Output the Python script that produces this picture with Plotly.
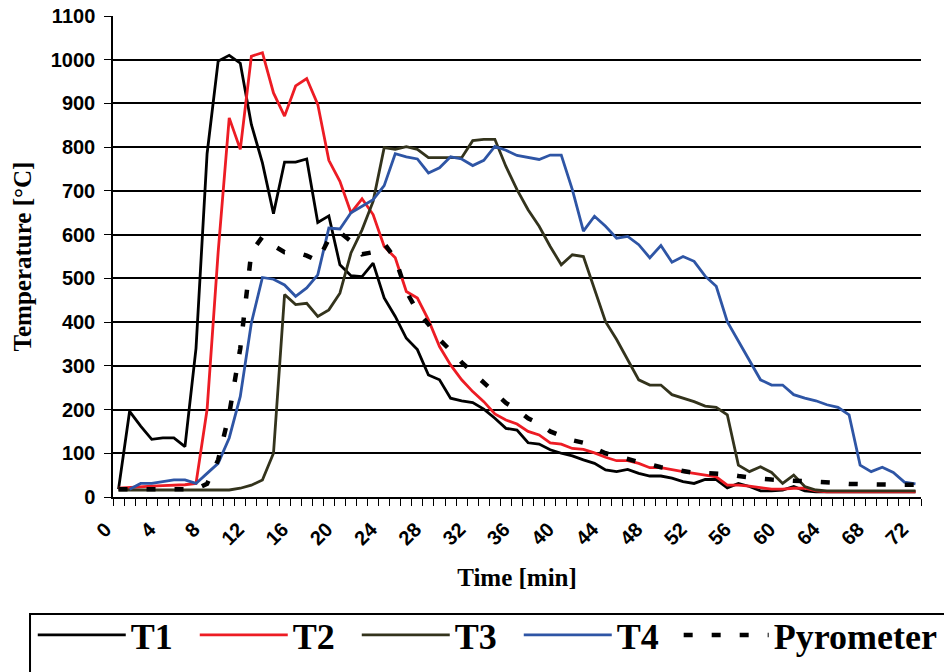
import plotly.graph_objects as go

minutes = list(range(0, 73))

t1 = [18, 196, 162, 132, 135, 135, 115, 340, 785, 997, 1010, 992, 852, 764, 648, 766, 766, 773, 628, 643,
      531, 506, 504, 535, 455, 413, 363, 337, 279, 268, 226, 220, 216, 201, 180, 157, 153, 124, 121, 108,
      100, 94, 85, 77, 62, 58, 63, 54, 48, 48, 43, 35, 31, 40, 40, 21, 31, 24, 14, 14,
      16, 24, 14, 12, 12, 12, 12, 12, 12, 12, 12, 12, 12]
t2 = [20, 22, 24, 25, 26, 27, 28, 31, 200, 560, 867, 795, 1008, 1016, 924, 871, 940, 957, 898, 770,
      722, 650, 682, 646, 573, 547, 470, 455, 405, 344, 302, 268, 241, 218, 190, 176, 167, 150, 142, 124,
      121, 111, 109, 101, 91, 83, 83, 77, 67, 67, 62, 58, 54, 50, 46, 27, 27, 25, 22, 18,
      18, 20, 20, 14, 12, 12, 12, 12, 12, 12, 12, 12, 12]
t3 = [16, 16, 16, 16, 16, 16, 16, 16, 16, 16, 16, 20, 27, 39, 100, 463, 440, 443, 413, 428,
      466, 558, 611, 676, 799, 795, 801, 795, 776, 776, 776, 776, 815, 818, 818, 756, 703, 657, 619, 573,
      531, 554, 550, 474, 401, 360, 314, 268, 256, 256, 234, 226, 218, 208, 205, 188, 73, 58, 69, 56,
      31, 50, 24, 16, 14, 14, 14, 14, 14, 14, 14, 14, 14]
t4 = [None, 18, 31, 31, 35, 39, 39, 31, 54, 77, 135, 230, 398, 502, 498, 485, 459, 478, 508, 615,
      613, 650, 665, 680, 712, 785, 778, 773, 741, 753, 778, 773, 758, 770, 802, 793, 781, 776, 772, 782,
      782, 703, 608, 642, 619, 592, 596, 577, 547, 575, 537, 550, 539, 505, 482, 401, 356, 314, 268, 256,
      256, 234, 226, 220, 211, 205, 188, 73, 58, 68, 56, 34, 30]
pyro = [18, 18, 18, 18, 18, 18, 18, 18, 30, 85, 190, 340, 560, 595, 575, 560, 560, 552, 540, 590,
        605, 585, 555, 560, 580, 545, 470, 425, 395, 360, 335, 308, 285, 262, 240, 215, 200, 180, 168, 150,
        140, 130, 124, 112, 100, 94, 86, 80, 75, 68, 64, 60, 55, 55, 54, 52, 48, 44, 42, 40,
        39, 37, 35, 34, 33, 32, 30, 29, 28, 28, 28, 28, 28]

x_ticks = list(range(0, 73, 4))
y_ticks = list(range(0, 1101, 100))
grid_ticks = list(range(100, 1001, 100))

names = ["T1", "T2", "T3", "T4", "Pyrometer"]
colors = ["#000000", "#ed1c24", "#33331c", "#2e55a5", "#000000"]
series = [t1, t2, t3, t4, pyro]

fig = go.Figure()
for name, col, ys in zip(names, colors, series):
    is_pyro = name == "Pyrometer"
    fig.add_trace(go.Scatter(x=minutes, y=ys, mode="lines", name=name,
                             line=dict(color=col, width=4.5 if is_pyro else 2.8,
                                       dash="9px,19px" if is_pyro else "solid"),
                             legend="legend2" if is_pyro else "legend",
                             connectgaps=False))

# invisible trace on grid axis
fig.add_trace(go.Scatter(x=[0], y=[0], yaxis="y2", mode="markers",
                         marker=dict(opacity=0), showlegend=False, hoverinfo="skip"))

tick_font = dict(family="Liberation Sans", size=20, color="black", weight="bold")
title_font = dict(family="Liberation Serif", size=25, color="black", weight="bold")
legend_font = dict(family="Liberation Serif", size=36, color="black", weight="bold")

fig.update_layout(
    width=944, height=672,
    margin=dict(l=113, r=23, t=16, b=175, autoexpand=False),
    paper_bgcolor="white", plot_bgcolor="rgba(0,0,0,0)",
    xaxis=dict(range=[-0.5, 72.5], tickmode="array", tickvals=x_ticks,
               ticktext=[str(v) for v in x_ticks], tickangle=-45, ticks="",
               ticklabelstandoff=11, ticklabelshift=-13,
               showgrid=False, zeroline=False, showline=True, linecolor="black", linewidth=1.5,
               tickfont=tick_font, automargin=False,
               minor=dict(tickmode="linear", tick0=-0.5, dtick=1, ticks="outside",
                          ticklen=7, tickwidth=1.3, tickcolor="black", showgrid=False),
               title=dict(text="Time [min]", font=title_font, standoff=20)),
    yaxis=dict(range=[0, 1100], tickmode="array", tickvals=y_ticks, ticks="outside",
               ticklen=7, tickwidth=1.3, tickcolor="black", ticklabelstandoff=5,
               showgrid=False, zeroline=False, showline=True, linecolor="black", linewidth=1.5,
               tickfont=tick_font, automargin=False,
               title=dict(text="Temperature [°C]", font=title_font, standoff=12)),
    yaxis2=dict(range=[0, 1100], overlaying="y", tickmode="array", tickvals=grid_ticks,
                showgrid=True, gridcolor="black", gridwidth=1.5, showticklabels=False,
                ticks="", showline=False, zeroline=False),
    legend=dict(orientation="h", x=-0.0993, y=-0.2245, xanchor="left", yanchor="top",
                bgcolor="rgba(0,0,0,0)", borderwidth=0, font=legend_font,
                itemwidth=88, entrywidth=59, entrywidthmode="pixels", tracegroupgap=0),
    legend2=dict(orientation="h", x=0.7001, y=-0.2245, xanchor="left", yanchor="top",
                 bgcolor="rgba(0,0,0,0)", borderwidth=0, font=legend_font,
                 itemwidth=85, tracegroupgap=0),
    shapes=[dict(type="rect", xref="paper", yref="paper", x0=-0.1027, x1=1.2,
                 y0=-0.2432, y1=-0.6, line=dict(color="black", width=2),
                 fillcolor="white", layer="below")],
    showlegend=True,
)

fig.write_html("out.html", config={"displayModeBar": False},
               post_script="document.body.style.margin='0px';")
